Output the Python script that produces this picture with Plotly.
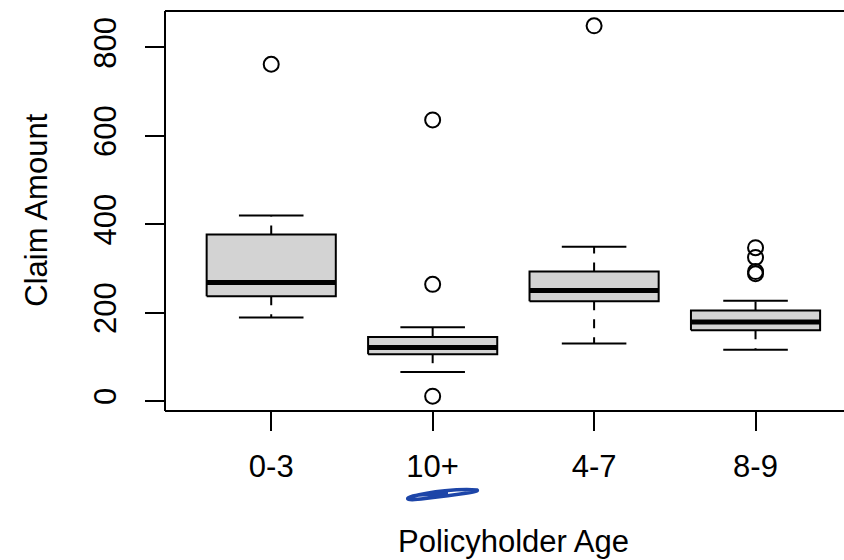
import plotly.graph_objects as go

# ---- data ----
categories = ["0-3", "10+", "4-7", "8-9"]
q1 = [237, 106, 226, 160]
median = [268, 121, 250, 179]
q3 = [377, 145, 293, 205]
lower_whisker = [189, 66, 130, 116]
upper_whisker = [420, 167, 349, 227]
outliers_03 = [762]
outliers_10 = [636, 264, 11]
outliers_47 = [849]
outliers_89 = [347, 325, 293, 288]
outliers = [outliers_03, outliers_10, outliers_47, outliers_89]
y_ticks = [0, 200, 400, 600, 800]

W, H = 844, 560
ML, MR, MT, MB = 165, 0, 11, 149
FONT = "Liberation Sans, Arial, Helvetica, sans-serif"
FS = 31

positions = list(range(1, len(categories) + 1))
hw = 0.4   # half box width
cw = 0.2   # half cap width

fig = go.Figure()

# boxes
for i, x in enumerate(positions):
    fig.add_trace(go.Scatter(
        x=[x - hw, x + hw, x + hw, x - hw, x - hw],
        y=[q1[i], q1[i], q3[i], q3[i], q1[i]],
        mode="lines", fill="toself", fillcolor="#d3d3d3",
        line=dict(color="black", width=2), hoverinfo="skip", showlegend=False))

# whiskers (dashed)
wx, wy = [], []
for i, x in enumerate(positions):
    wx += [x, x, None, x, x, None]
    wy += [q3[i], upper_whisker[i], None, q1[i], lower_whisker[i], None]
fig.add_trace(go.Scatter(x=wx, y=wy, mode="lines",
                         line=dict(color="black", width=2, dash="9px,9px"),
                         hoverinfo="skip", showlegend=False))

# caps
cx, cy = [], []
for i, x in enumerate(positions):
    cx += [x - cw, x + cw, None, x - cw, x + cw, None]
    cy += [upper_whisker[i], upper_whisker[i], None, lower_whisker[i], lower_whisker[i], None]
fig.add_trace(go.Scatter(x=cx, y=cy, mode="lines",
                         line=dict(color="black", width=2),
                         hoverinfo="skip", showlegend=False))

# medians
mx, my = [], []
for i, x in enumerate(positions):
    mx += [x - hw, x + hw, None]
    my += [median[i], median[i], None]
fig.add_trace(go.Scatter(x=mx, y=my, mode="lines",
                         line=dict(color="black", width=5),
                         hoverinfo="skip", showlegend=False))

# outliers
ox, oy = [], []
for i, x in enumerate(positions):
    ox += [x] * len(outliers[i])
    oy += outliers[i]
fig.add_trace(go.Scatter(x=ox, y=oy, mode="markers",
                         marker=dict(symbol="circle-open", size=15, color="black",
                                     line=dict(width=2)),
                         hoverinfo="skip", showlegend=False))

pw = W - ML - MR
ph = H - MT - MB
def px(xp): return (xp - ML) / pw
def py(yp): return (MT + ph - yp) / ph
def P(a, b): return "{:.5f},{:.5f}".format(px(a), py(b))

shapes = [
    dict(type="line", xref="paper", yref="paper", x0=0, x1=1, y0=1, y1=1,
         line=dict(color="black", width=2)),
    dict(type="line", xref="paper", yref="paper", x0=0, x1=1, y0=0, y1=0,
         line=dict(color="black", width=2)),
    dict(type="line", xref="paper", yref="paper", x0=0, x1=0, y0=0, y1=1,
         line=dict(color="black", width=2)),
]
# hand-drawn blue scribble under "10+"
path = ("M " + P(412, 496.5) +
        " C " + P(430, 491.5) + " " + P(460, 488.5) + " " + P(477, 490) +
        " C " + P(481, 491.5) + " " + P(455, 495) + " " + P(425, 498.5) +
        " C " + P(407, 501) + " " + P(403, 499) + " " + P(413, 496) +
        " C " + P(420, 494.5) + " " + P(438, 494) + " " + P(448, 494))
shapes.append(dict(type="path", xref="paper", yref="paper", path=path,
                   line=dict(color="#1d45a8", width=3.5)))

fig.update_layout(
    width=W, height=H,
    margin=dict(l=ML, r=MR, t=MT, b=MB, pad=0),
    paper_bgcolor="white", plot_bgcolor="white",
    font=dict(family=FONT, size=FS, color="black"),
    shapes=shapes,
    xaxis=dict(range=[0.342, 4.548], tickmode="array", tickvals=positions,
               ticktext=categories, ticks="outside", ticklen=19, tickwidth=2,
               tickcolor="black", showgrid=False, zeroline=False, showline=False,
               ticklabelstandoff=9, fixedrange=True),
    yaxis=dict(range=[-22.5, 882.5], tickmode="array", tickvals=y_ticks,
               ticks="outside", ticklen=19, tickwidth=2, tickcolor="black",
               tickangle=-90, showgrid=False, zeroline=False, showline=False,
               ticklabelstandoff=17, fixedrange=True),
    annotations=[
        dict(text="Policyholder Age", xref="paper", yref="paper",
             x=px(513.6), y=py(541), xanchor="center", yanchor="middle",
             showarrow=False, font=dict(family=FONT, size=FS)),
        dict(text="Claim Amount", xref="paper", yref="paper",
             x=px(37), y=py(210.7), xanchor="center", yanchor="middle",
             textangle=-90, showarrow=False, font=dict(family=FONT, size=FS)),
    ],
)

fig.write_html("out.html")
